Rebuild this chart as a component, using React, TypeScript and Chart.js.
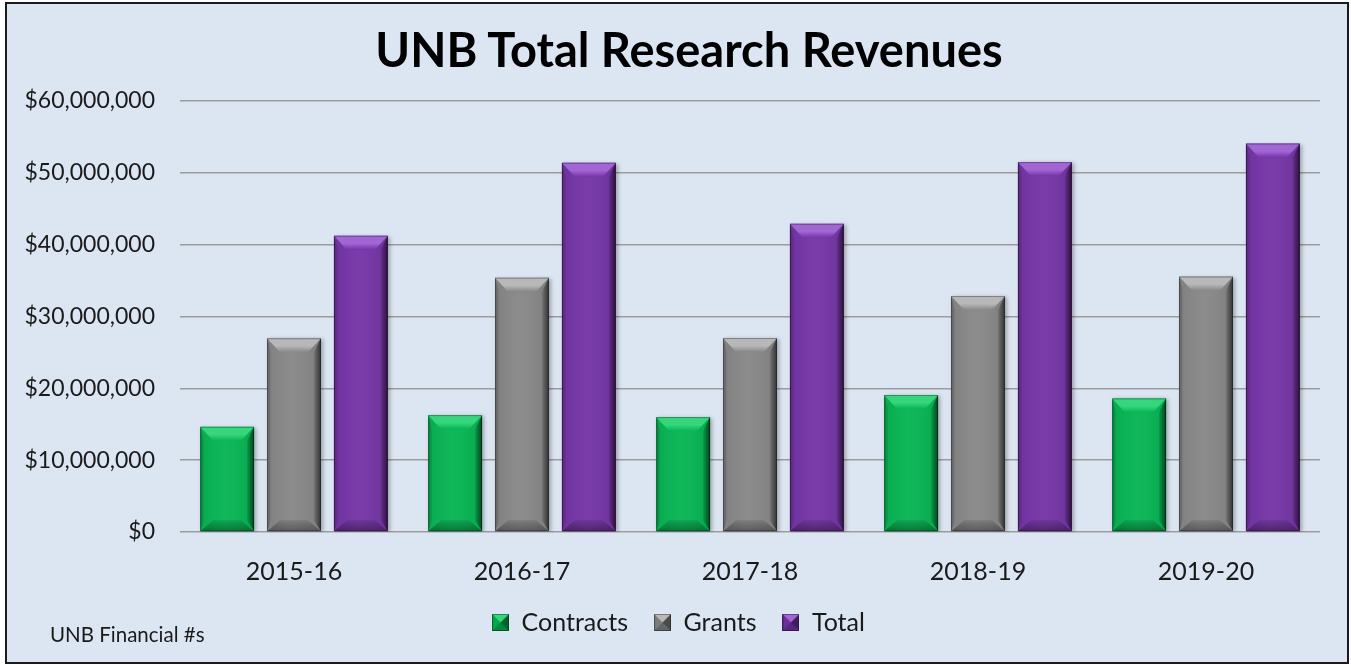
import React, { useEffect, useRef } from "react";
import { Chart, registerables } from "chart.js";

Chart.register(...registerables);

// ---------- data ----------
const categories = ["2015-16", "2016-17", "2017-18", "2018-19", "2019-20"];
const contracts = [14640000, 16270000, 16000000, 19070000, 18600000];
const grants = [26970000, 35400000, 27000000, 32850000, 35560000];
const totals = [41240000, 51400000, 42900000, 51500000, 54070000];
const seriesNames = ["Contracts", "Grants", "Total"];
const yTicks = [0, 10000000, 20000000, 30000000, 40000000, 50000000, 60000000];
const titleText = "UNB Total Research Revenues";
const footnoteText = "UNB Financial #s";

// ---------- styles ----------
const FONT = "Lato, 'Liberation Sans', sans-serif";
const BG = "#dce6f2";
const palette = [
  { face: "#06b553", light: "#36d67c" },
  { face: "#878787", light: "#b8b8b8" },
  { face: "#7434a6", light: "#a266d4" },
];

function makeIcon(face: string, light: string): HTMLCanvasElement {
  const s = 17;
  const c = document.createElement("canvas");
  c.width = s;
  c.height = s;
  const g = c.getContext("2d")!;
  g.fillStyle = face;
  g.fillRect(0, 0, s, s);
  const tri = (pts: number[][], col: string) => {
    g.beginPath();
    g.moveTo(pts[0][0], pts[0][1]);
    for (let i = 1; i < pts.length; i++) g.lineTo(pts[i][0], pts[i][1]);
    g.closePath();
    g.fillStyle = col;
    g.fill();
  };
  const m = s / 2;
  tri([[0, 0], [s, 0], [m, m]], light);
  tri([[s, 0], [s, s], [m, m]], "rgba(0,0,0,0.45)");
  tri([[0, s], [s, s], [m, m]], "rgba(0,0,0,0.25)");
  tri([[0, 0], [0, s], [m, m]], "rgba(0,0,0,0.08)");
  g.strokeStyle = "rgba(0,0,0,0.35)";
  g.lineWidth = 1;
  g.strokeRect(0.5, 0.5, s - 1, s - 1);
  return c;
}

const bevelPlugin = {
  id: "bevel",
  beforeDatasetsDraw(chart: any) {
    const ctx = chart.ctx;
    ctx.save();
    ctx.shadowColor = "rgba(0,0,0,0.3)";
    ctx.shadowBlur = 4;
    ctx.shadowOffsetX = 2;
    ctx.shadowOffsetY = 1;
  },
  afterDatasetsDraw(chart: any) {
    const ctx = chart.ctx;
    ctx.restore();
    chart.data.datasets.forEach((ds: any, di: number) => {
      const meta = chart.getDatasetMeta(di);
      const pal = palette[di];
      meta.data.forEach((el: any) => {
        const p = el.getProps(["x", "y", "base", "width"], true);
        const L = p.x - p.width / 2;
        const R = p.x + p.width / 2;
        const T = Math.min(p.y, p.base);
        const B = Math.max(p.y, p.base);
        const iH = 13;
        const iV = 14;
        const bV = 11;
        const sl = 4;
        const sr = 7;
        const poly = (pts: number[][], fill: any) => {
          ctx.beginPath();
          ctx.moveTo(pts[0][0], pts[0][1]);
          for (let i = 1; i < pts.length; i++) ctx.lineTo(pts[i][0], pts[i][1]);
          ctx.closePath();
          ctx.fillStyle = fill;
          ctx.fill();
        };
        ctx.save();
        const gf = ctx.createLinearGradient(L, 0, R, 0);
        gf.addColorStop(0, "rgba(0,0,0,0.06)");
        gf.addColorStop(0.45, "rgba(255,255,255,0.04)");
        gf.addColorStop(1, "rgba(0,0,0,0.08)");
        ctx.fillStyle = gf;
        ctx.fillRect(L, T, R - L, B - T);
        const gl = ctx.createLinearGradient(L, 0, L + sl, 0);
        gl.addColorStop(0, "rgba(0,0,0,0.25)");
        gl.addColorStop(1, "rgba(0,0,0,0.04)");
        poly([[L, T], [L + sl, T + iV], [L + sl, B - bV], [L, B]], gl);
        const gr = ctx.createLinearGradient(R - sr, 0, R, 0);
        gr.addColorStop(0, "rgba(0,0,0,0.1)");
        gr.addColorStop(1, "rgba(0,0,0,0.6)");
        poly([[R, T], [R - sr, T + iV], [R - sr, B - bV], [R, B]], gr);
        const gb = ctx.createLinearGradient(0, B - bV, 0, B);
        gb.addColorStop(0, "rgba(0,0,0,0.1)");
        gb.addColorStop(1, "rgba(0,0,0,0.35)");
        poly([[L, B], [R, B], [R - iH, B - bV], [L + iH, B - bV]], gb);
        const gt = ctx.createLinearGradient(0, T, 0, T + iV);
        gt.addColorStop(0, pal.light);
        gt.addColorStop(0.55, pal.light);
        gt.addColorStop(1, pal.face);
        poly([[L, T], [R, T], [R - iH, T + iV], [L + iH, T + iV]], gt);
        ctx.strokeStyle = "rgba(0,0,0,0.3)";
        ctx.lineWidth = 1;
        ctx.strokeRect(L + 0.5, T + 0.5, R - L - 1, B - T - 1);
        ctx.restore();
      });
    });
  },
};

export default function App() {
  const ref = useRef<HTMLCanvasElement | null>(null);

  useEffect(() => {
    if (!ref.current) return;
    const icons = palette.map((p) => makeIcon(p.face, p.light));
    const seriesData = [contracts, grants, totals];
    const chart = new Chart(ref.current, {
      type: "bar",
      data: {
        labels: categories,
        datasets: seriesNames.map((name, i) => ({
          label: name,
          data: seriesData[i],
          backgroundColor: palette[i].face,
          borderWidth: 0,
          categoryPercentage: 0.88,
          barPercentage: 0.806,
        })),
      },
      options: {
        responsive: false,
        animation: false,
        devicePixelRatio: 1,
        layout: { padding: { left: 20, right: 14, top: 101, bottom: 20 } },
        plugins: {
          title: { display: false },
          legend: {
            position: "bottom",
            labels: {
              font: { family: FONT, size: 25 },
              color: "#1a1a1a",
              boxWidth: 17,
              boxHeight: 17,
              padding: 26,
              usePointStyle: true,
              generateLabels: (c: any) => {
                const items = Chart.defaults.plugins.legend.labels.generateLabels(c);
                return items.map((it: any, i: number) => ({ ...it, pointStyle: icons[i], lineWidth: 0 }));
              },
            },
          },
          tooltip: { enabled: false },
        },
        scales: {
          x: {
            grid: { display: false, drawTicks: false },
            border: { display: false },
            ticks: { font: { family: FONT, size: 25, lineHeight: 1.04 }, color: "#1a1a1a", padding: 27 },
            afterFit: (s: any) => {
              s.height = 52;
            },
          },
          y: {
            min: 0,
            max: 60000000,
            afterBuildTicks: (s: any) => {
              s.ticks = yTicks.map((v) => ({ value: v }));
            },
            afterFit: (s: any) => {
              s.width = 160;
            },
            grid: { color: "#9c9c9c", lineWidth: 1.5, drawTicks: false },
            border: { display: false },
            ticks: {
              padding: 25,
              font: { family: FONT, size: 23 },
              color: "#1a1a1a",
              callback: (v: any) => "$" + Number(v).toLocaleString("en-US"),
            },
          },
          yRightSpace: {
            type: "linear",
            position: "right",
            display: true,
            grid: { display: false, drawTicks: false },
            border: { display: false },
            ticks: { display: false },
            afterFit: (s: any) => {
              s.width = 17;
            },
          },
        },
      },
      plugins: [bevelPlugin],
    });
    return () => chart.destroy();
  }, []);

  return (
    <div style={{ position: "fixed", left: 0, top: 0, width: 1351, height: 665, background: "#fff", overflow: "hidden" }}>
      <div
        style={{
          position: "absolute",
          left: 5,
          top: 2,
          width: 1344,
          height: 662,
          boxSizing: "border-box",
          border: "2px solid #1b1b1b",
          background: BG,
        }}
      />
      <canvas ref={ref} width={1351} height={665} style={{ position: "absolute", left: 0, top: 0, width: 1351, height: 665 }} />
      <div
        style={{
          position: "absolute",
          left: 189,
          width: 1000,
          top: 21,
          textAlign: "center",
          fontFamily: FONT,
          fontWeight: "bold",
          fontSize: 47,
          lineHeight: "56px",
          color: "#000",
          whiteSpace: "nowrap",
        }}
      >
        {titleText}
      </div>
      <div
        style={{
          position: "absolute",
          left: 50,
          top: 622,
          fontFamily: FONT,
          fontSize: 20.5,
          lineHeight: "24px",
          color: "#1a1a1a",
          whiteSpace: "nowrap",
        }}
      >
        {footnoteText}
      </div>
    </div>
  );
}
